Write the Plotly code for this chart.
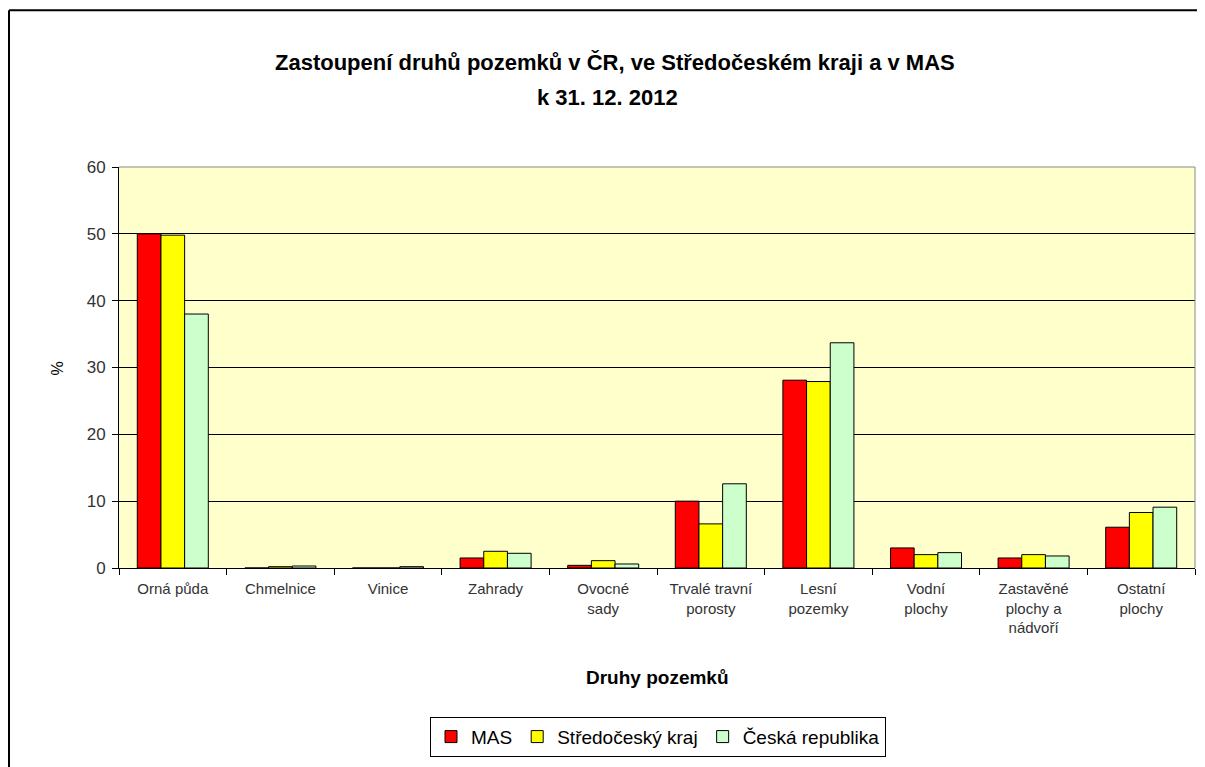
import plotly.graph_objects as go

categories = [
    "Orná půda", "Chmelnice", "Vinice", "Zahrady", "Ovocné<br>sady",
    "Trvalé travní<br>porosty", "Lesní<br>pozemky", "Vodní<br>plochy",
    "Zastavěné<br>plochy a<br>nádvoří", "Ostatní<br>plochy",
]
mas = [50.0, 0.0, 0.0, 1.5, 0.4, 10.0, 28.1, 3.0, 1.5, 6.1]
stredocesky = [49.8, 0.2, 0.0, 2.5, 1.1, 6.6, 27.9, 2.0, 2.0, 8.3]
cr = [38.0, 0.3, 0.2, 2.2, 0.6, 12.6, 33.7, 2.3, 1.8, 9.1]

title_lines = ["Zastoupení druhů pozemků v ČR, ve Středočeském kraji a v MAS", "k 31. 12. 2012"]

FONT = "Liberation Sans, Arial, sans-serif"

fig = go.Figure()
fig.add_trace(go.Bar(x=categories, y=mas, name="MAS",
                     marker=dict(color="#FF0000", line=dict(color="black", width=1))))
fig.add_trace(go.Bar(x=categories, y=stredocesky, name="Středočeský kraj",
                     marker=dict(color="#FFFF00", line=dict(color="black", width=1))))
fig.add_trace(go.Bar(x=categories, y=cr, name="Česká republika",
                     marker=dict(color="#CCFFCC", line=dict(color="black", width=1))))

# page body has an 8px margin, so work in figure pixels = page pixels - 8
OFF = 8
W, H = 1205 - OFF, 767 - OFF
L, R, T, B = 119 - OFF, 1195 - OFF, 167 - OFF, 571 - OFF


def px(x):
    return (x - OFF - L) / (R - L)


def py(y):
    return (B - (y - OFF)) / (B - T)


fig.update_layout(
    width=W, height=H,
    margin=dict(l=L, r=W - R, t=T, b=H - B),
    paper_bgcolor="white",
    plot_bgcolor="#FFFFCC",
    font=dict(family=FONT, color="#222222"),
    barmode="group",
    bargap=0.34,
    bargroupgap=0,
    showlegend=True,
    xaxis=dict(
        tickfont=dict(size=15, color="#333333"),
        showline=True, linecolor="black", linewidth=1,
        ticks="outside", ticklen=6, tickcolor="black",
        tickson="boundaries", ticklabelstandoff=7,
        showgrid=False,
    ),
    yaxis=dict(
        range=[0, 60], dtick=10,
        tickfont=dict(size=17, color="#333333"),
        showline=True, linecolor="black", linewidth=1,
        ticks="outside", ticklen=6, tickcolor="black",
        ticklabelstandoff=3,
        showgrid=True, gridcolor="black", gridwidth=1,
        zeroline=False,
    ),
    legend=dict(
        orientation="h", x=px(658), xanchor="center", y=py(741), yanchor="middle",
        bordercolor="black", borderwidth=1, bgcolor="white",
        font=dict(size=19, color="black"),
        itemwidth=30, tracegroupgap=0,
    ),
    annotations=[
        dict(text="<b>" + title_lines[0] + "</b>", xref="paper", yref="paper",
             x=px(615), y=py(62), xanchor="center", yanchor="middle",
             showarrow=False, font=dict(size=22, color="black")),
        dict(text="<b>" + title_lines[1] + "</b>", xref="paper", yref="paper",
             x=px(607), y=py(97), xanchor="center", yanchor="middle",
             showarrow=False, font=dict(size=22, color="black")),
        dict(text="<b>Druhy pozemků</b>", xref="paper", yref="paper",
             x=px(657), y=py(681), xanchor="center", yanchor="middle",
             showarrow=False, font=dict(size=19, color="black")),
        dict(text="%", xref="paper", yref="paper", textangle=-90,
             x=px(57), y=py(370), xanchor="center", yanchor="middle",
             showarrow=False, font=dict(size=16, color="black")),
    ],
    shapes=[
        # plot area top/right border
        dict(type="line", xref="paper", yref="paper", x0=0, x1=1, y0=1, y1=1,
             line=dict(color="#888888", width=1)),
        dict(type="line", xref="paper", yref="paper", x0=1, x1=1, y0=0, y1=1,
             line=dict(color="#888888", width=1)),
        # outer chart frame
        dict(type="line", xref="paper", yref="paper", x0=px(9), x1=px(1220),
             y0=py(9), y1=py(9), line=dict(color="black", width=2)),
        dict(type="line", xref="paper", yref="paper", x0=px(9), x1=px(9),
             y0=py(9), y1=py(790), line=dict(color="black", width=2)),
    ],
)

fig.write_html("out.html")
